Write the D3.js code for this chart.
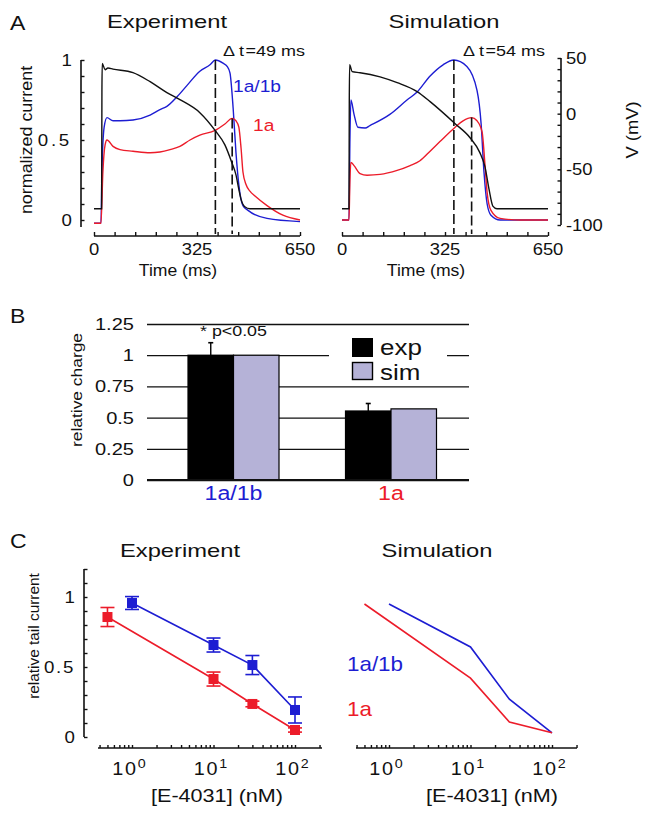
<!DOCTYPE html>
<html><head><meta charset="utf-8">
<script src="https://cdn.jsdelivr.net/npm/d3@7/dist/d3.min.js"></script>
<style>body{margin:0;background:#fff}svg{display:block}</style>
</head><body>
<svg id="c" width="652" height="817"></svg>
<script>
// ---------------- DATA ----------------
// Panel A – Experiment traces (time in ms)
const expBlueT = [0,22,25,32,41,60,82,123,177,208,230,262,293,334,366,383,407,420,429,439,448,457,470,486,546,650];
const expBlueI = [-0.02,-0.02,0.3,0.58,0.64,0.62,0.62,0.625,0.656,0.69,0.71,0.77,0.84,0.93,0.97,1.0,0.98,0.96,0.92,0.7,0.42,0.22,0.09,0.06,0.01,-0.01];
const expRedT = [0,22,28,35,41,60,82,123,177,208,240,271,303,334,382,413,436,448,457,464,470,480,492,508,546,596,650];
const expRedI = [-0.02,-0.02,0.3,0.47,0.5,0.46,0.44,0.43,0.42,0.425,0.44,0.46,0.5,0.53,0.56,0.6,0.635,0.62,0.58,0.45,0.3,0.22,0.18,0.15,0.09,0.03,0.0];
const expVT = [0,24,25,26,35,44,60,123,177,230,271,334,382,413,435,448,457,464,476,492,650];
const expV  = [-85.4,-85.4,20,45,39.5,41,40,36.8,28.7,18.9,12.6,0.9,-15,-28,-44,-55,-68,-77,-83.6,-85.4,-85.4];
// Panel A – Simulation traces
const simBlueT = [0,22,25,28,38,50,73,88,151,205,237,278,319,353,394,426,439,448,458,470,499,650];
const simBlueI = [0,0,0.5,0.75,0.66,0.58,0.575,0.59,0.66,0.75,0.8,0.9,0.97,1.0,0.96,0.81,0.6,0.3,0.1,0.03,0.0,0.0];
const simRedT = [0,22,25,28,38,57,79,120,174,215,246,278,309,357,382,409,426,442,451,458,470,499,562,650];
const simRedI = [0,0,0.25,0.36,0.34,0.29,0.28,0.285,0.31,0.34,0.37,0.43,0.49,0.58,0.62,0.64,0.62,0.55,0.35,0.17,0.06,0.01,0,0];
const simVT = [0,22,23,24,32,57,120,174,237,278,357,404,435,451,464,476,489,650];
const simV  = [-85.4,-85.4,10,44,37.7,36.8,33,27.8,19.8,10.8,-9,-21.6,-35,-47.6,-68,-83,-85.4,-85.4];
// peak markers (ms, normalized current)
const expPeaks = [[383,1.0],[436,0.635]];
const simPeaks = [[353,1.0],[409,0.64]];
const deltaLabels = ["\u0394 t\u200a=49 ms","\u0394 t\u200a=54 ms"];
const timeTicks = [0,325,650];
const currTicks = [0,0.5,1];
const voltTicks = [50,0,-50,-100];

// Panel B
const groups = ["1a/1b","1a"];
const series = ["exp","sim"];
const chargeExp = [1.0, 0.553];
const chargeSim = [1.0, 0.57];
const chargeErr = [0.1, 0.06];
const chargeTicks = [0,0.25,0.5,0.75,1,1.25];
const chargeTickLabels = ["0","0.25","0.5","0.75","1","1.25"];

// Panel C
const concBlue = [1,10,30,100];
const tailBlueExp = [0.957,0.657,0.514,0.193];
const errBlueExp = [0.046,0.05,0.068,0.093];
const concRed = [0.5,10,30,100];
const tailRedExp = [0.857,0.414,0.236,0.05];
const errRedExp = [0.068,0.05,0.02,0.015];
const tailBlueSim = [0.95,0.643,0.27,0.03];
const tailRedSim = [0.95,0.42,0.107,0.03];
const decadeTicks = [1,10,100];
const tailTicks = [0,0.5,1];

// ---------------- STYLE ----------------
const BLUE="#1d1dd2", RED="#ec1c2a", LAV="#b5b2d7", INK="#111";
const svg = d3.select("#c").attr("font-family","'Liberation Sans', Arial, Helvetica, sans-serif");
svg.append("rect").attr("width",652).attr("height",817).attr("fill","#fff");

function txt(g,x,y,s,o={}){
  const t=g.append("text")
    .attr("transform",`translate(${x},${y}) rotate(${o.rot||0}) scale(${o.sx||1.15},1)`)
    .attr("font-size",o.size||16).attr("text-anchor",o.anchor||"start")
    .attr("fill",o.fill||INK).text(s);
  if(o.ls) t.attr("letter-spacing",o.ls);
  return t;
}
function styleAxis(g){ g.selectAll("line").attr("stroke",INK).attr("stroke-width",1.4); g.select(".domain").remove(); }
function vline(g,x,y1,y2,w=1.6){ g.append("line").attr("x1",x).attr("x2",x).attr("y1",y1).attr("y2",y2).attr("stroke",INK).attr("stroke-width",w); }
function hline(g,y,x1,x2,w=1.6,c=INK){ g.append("line").attr("x1",x1).attr("x2",x2).attr("y1",y).attr("y2",y).attr("stroke",c).attr("stroke-width",w); }

// ---------------- PANEL A ----------------
const gA = svg.append("g");
txt(gA,10,30,"A",{size:20,sx:1.15});
const yI = d3.scaleLinear().domain([0,1]).range([220,60]);
const yV = d3.scaleLinear().domain([-100,50]).range([225,58]);
const xA = [d3.scaleLinear().domain([0,650]).range([94,300]), d3.scaleLinear().domain([0,650]).range([342,548])];

const traces = [
  {x:xA[0], blue:[expBlueT,expBlueI], red:[expRedT,expRedI], v:[expVT,expV], peaks:expPeaks, lab:deltaLabels[0], lx:223, title:"Experiment", tx:167, timeX:178},
  {x:xA[1], blue:[simBlueT,simBlueI], red:[simRedT,simRedI], v:[simVT,simV], peaks:simPeaks, lab:deltaLabels[1], lx:463, title:"Simulation", tx:444, timeX:426}
];
traces.forEach((p,i)=>{
  const x=p.x;
  txt(gA,p.tx,28,p.title,{size:19,sx:1.25,anchor:"middle"});
  const lineI=d3.line().x(d=>x(d[0])).y(d=>yI(d[1])).curve(d3.curveMonotoneX);
  const lineV=d3.line().x(d=>x(d[0])).y(d=>yV(d[1])).curve(d3.curveMonotoneX);
  const zip=(a)=>a[0].map((t,k)=>[t,a[1][k]]);
  gA.append("path").attr("d",lineI(zip(p.blue))).attr("fill","none").attr("stroke",BLUE).attr("stroke-width",1.4);
  gA.append("path").attr("d",lineI(zip(p.red))).attr("fill","none").attr("stroke",RED).attr("stroke-width",1.4);
  gA.append("path").attr("d",lineV(zip(p.v))).attr("fill","none").attr("stroke",INK).attr("stroke-width",1.4);
  p.peaks.forEach(pk=>{
    gA.append("line").attr("x1",x(pk[0])).attr("x2",x(pk[0])).attr("y1",yI(pk[1])).attr("y2",yI(-0.088))
      .attr("stroke",INK).attr("stroke-width",1.6).attr("stroke-dasharray","10,4");
  });
  txt(gA,p.lx,56,p.lab,{size:15,sx:1.2});
  // x axis
  const gx=gA.append("g").attr("transform","translate(0,236)")
    .call(d3.axisTop(x).tickValues(d3.range(0,651,65)).tickSize(4).tickFormat(""));
  styleAxis(gx); hline(gA,236,x(0),x(650));
  timeTicks.forEach(t=>txt(gA,x(t),255,String(t),{size:16,sx:1.15,anchor:"middle"}));
  txt(gA,p.timeX,276,"Time (ms)",{size:16,sx:1.1,anchor:"middle"});
});
// left current axis
const gyI=gA.append("g").attr("transform","translate(81,0)")
  .call(d3.axisRight(yI).tickValues(d3.range(0,1.001,0.1)).tickSize(3.5).tickFormat(""));
styleAxis(gyI); vline(gA,81,yI(1),227);
currTicks.forEach(v=>txt(gA,72,yI(v)+6,v===0.5?"0.5":String(v),{size:17,sx:1.1,anchor:"end",ls:v===0.5?2.5:0}));
txt(gA,32,140,"normalized current",{size:16,sx:1.12,anchor:"middle",rot:-90});
txt(gA,233,92,"1a/1b",{size:17,sx:1.13,fill:BLUE});
txt(gA,253,131,"1a",{size:17,sx:1.13,fill:RED});
// right voltage axis
const gyV=gA.append("g").attr("transform","translate(561,0)")
  .call(d3.axisLeft(yV).tickValues(d3.range(-100,51,10)).tickSize(3.5).tickFormat(""));
styleAxis(gyV); vline(gA,561,yV(50),yV(-100));
voltTicks.forEach(v=>txt(gA,566,yV(v)+6,String(v),{size:16,sx:1.15}));
txt(gA,638,130,"V (mV)",{size:16,sx:1.15,anchor:"middle",rot:-90});

// ---------------- PANEL B ----------------
const gB=svg.append("g");
txt(gB,10,323,"B",{size:20,sx:1.15});
const yB=d3.scaleLinear().domain([0,1.25]).range([480,324]);
const xG=d3.scalePoint().domain(groups).range([233.5,391]);
const xS=d3.scaleBand().domain(series).range([-45.5,45.5]);
const gGrid=gB.append("g").attr("transform","translate(147,0)")
  .call(d3.axisRight(yB).tickValues(chargeTicks).tickSize(322).tickFormat(""));
gGrid.select(".domain").remove();
gGrid.selectAll("line").attr("stroke",INK).attr("stroke-width",1.3);
chargeTicks.forEach((v,i)=>txt(gB,134,yB(v)+6,chargeTickLabels[i],{size:17,sx:1.18,anchor:"end"}));
txt(gB,82,390,"relative charge",{size:15,sx:1.16,anchor:"middle",rot:-90});
// legend background (covers gridline)
gB.append("rect").attr("x",329).attr("y",332).attr("width",118).attr("height",50).attr("fill","#fff");
groups.forEach((gname,i)=>{
  const cx=xG(gname);
  [[chargeExp[i],"#000"],[chargeSim[i],LAV]].forEach((d,j)=>{
    gB.append("rect").attr("x",cx+xS(series[j])).attr("width",xS.bandwidth())
      .attr("y",yB(d[0])).attr("height",yB(0)-yB(d[0]))
      .attr("fill",d[1]).attr("stroke","#000").attr("stroke-width",1.2);
  });
  const ex=cx+xS("exp")+xS.bandwidth()/2;
  gB.append("line").attr("x1",ex).attr("x2",ex).attr("y1",yB(chargeExp[i])).attr("y2",yB(chargeExp[i]+chargeErr[i])).attr("stroke","#000").attr("stroke-width",1.4);
  hline(gB,yB(chargeExp[i]+chargeErr[i]),ex-2.5,ex+2.5,1.6,"#000");
  txt(gB,cx,500,gname,{size:20,sx:1.16,anchor:"middle",fill:i===0?BLUE:RED});
});
hline(gB,yB(0),147,469,2.2);
txt(gB,200,336,"* p<0.05",{size:15,sx:1.19});
// legend
gB.append("rect").attr("x",352).attr("y",338).attr("width",21).attr("height",19).attr("fill","#000");
gB.append("rect").attr("x",352.5).attr("y",362.5).attr("width",20).attr("height",17).attr("fill",LAV).attr("stroke","#000").attr("stroke-width",1.4);
txt(gB,380,355,"exp",{size:22,sx:1.18});
txt(gB,380,380,"sim",{size:22,sx:1.18});

// ---------------- PANEL C ----------------
const gC=svg.append("g");
txt(gC,10,548,"C",{size:20,sx:1.15});
const yC=d3.scaleLinear().domain([0,1]).range([737,597]);
const xC=[d3.scaleLog().domain([1,100]).range([132,295]), d3.scaleLog().domain([1,100]).range([389,552])];
const xLim=[[98,322],[356,577]];
const logTicks=[0.4,0.5,0.6,0.7,0.8,0.9,1,2,3,4,5,6,7,8,9,10,20,30,40,50,60,70,80,90,100,200];
[["Experiment",180],["Simulation",437]].forEach(d=>txt(gC,d[1],557,d[0],{size:19,sx:1.25,anchor:"middle"}));
xC.forEach((x,i)=>{
  const vals=logTicks.filter(v=>x(v)>=xLim[i][0]&&x(v)<=xLim[i][1]);
  const g=gC.append("g").attr("transform","translate(0,748)")
    .call(d3.axisTop(x).tickValues(vals).tickSize(3).tickFormat(""));
  styleAxis(g); hline(gC,748,xLim[i][0],xLim[i][1]);
  decadeTicks.forEach((v,k)=>{
    const t=gC.append("text").attr("transform",`translate(${x(v)-3},775) scale(1.1,1)`)
      .attr("font-size",18).attr("text-anchor","middle").attr("fill",INK);
    t.append("tspan").attr("letter-spacing",1.5).text("10");
    t.append("tspan").attr("font-size",13).attr("dy",-7).text(String(k));
  });
  txt(gC,i===0?217:492,802,"[E-4031] (nM)",{size:18,sx:1.2,anchor:"middle"});
});
// y axis
const gyC=gC.append("g").attr("transform","translate(84,0)")
  .call(d3.axisRight(yC).tickValues(d3.range(0,1.201,0.1)).tickSize(3.5).tickFormat(""));
styleAxis(gyC); vline(gC,84,yC(1.2),yC(0));
tailTicks.forEach(v=>txt(gC,75,yC(v)+6,String(v),{size:17,sx:1.1,anchor:"end",ls:v===0.5?1.5:0}));
txt(gC,39,636,"relative tail current",{size:14,sx:1.1,anchor:"middle",rot:-90});
// experimental data
function expSeries(conc,vals,errs,col){
  const x=xC[0];
  const pts=conc.map((c,k)=>[c,vals[k],errs[k]]);
  gC.append("path").attr("d",d3.line().x(d=>x(d[0])).y(d=>yC(d[1]))(pts)).attr("fill","none").attr("stroke",col).attr("stroke-width",1.6);
  pts.forEach(d=>{
    const cx=x(d[0]);
    gC.append("line").attr("x1",cx).attr("x2",cx).attr("y1",yC(d[1]-d[2])).attr("y2",yC(d[1]+d[2])).attr("stroke",col).attr("stroke-width",1.6);
    [d[1]-d[2],d[1]+d[2]].forEach(v=>hline(gC,yC(v),cx-7,cx+7,1.6,col));
    gC.append("rect").attr("x",cx-5).attr("y",yC(d[1])-5).attr("width",10).attr("height",10).attr("fill",col);
  });
}
expSeries(concBlue,tailBlueExp,errBlueExp,BLUE);
expSeries(concRed,tailRedExp,errRedExp,RED);
// simulation lines
[[concBlue,tailBlueSim,BLUE],[concRed,tailRedSim,RED]].forEach(s=>{
  const x=xC[1];
  gC.append("path").attr("d",d3.line().x(d=>x(d[0])).y(d=>yC(d[1]))(s[0].map((c,k)=>[c,s[1][k]])))
    .attr("fill","none").attr("stroke",s[2]).attr("stroke-width",1.6);
});
txt(gC,347,671,"1a/1b",{size:20,sx:1.12,fill:BLUE});
txt(gC,347,716,"1a",{size:20,sx:1.12,fill:RED});
</script>
</body></html>
